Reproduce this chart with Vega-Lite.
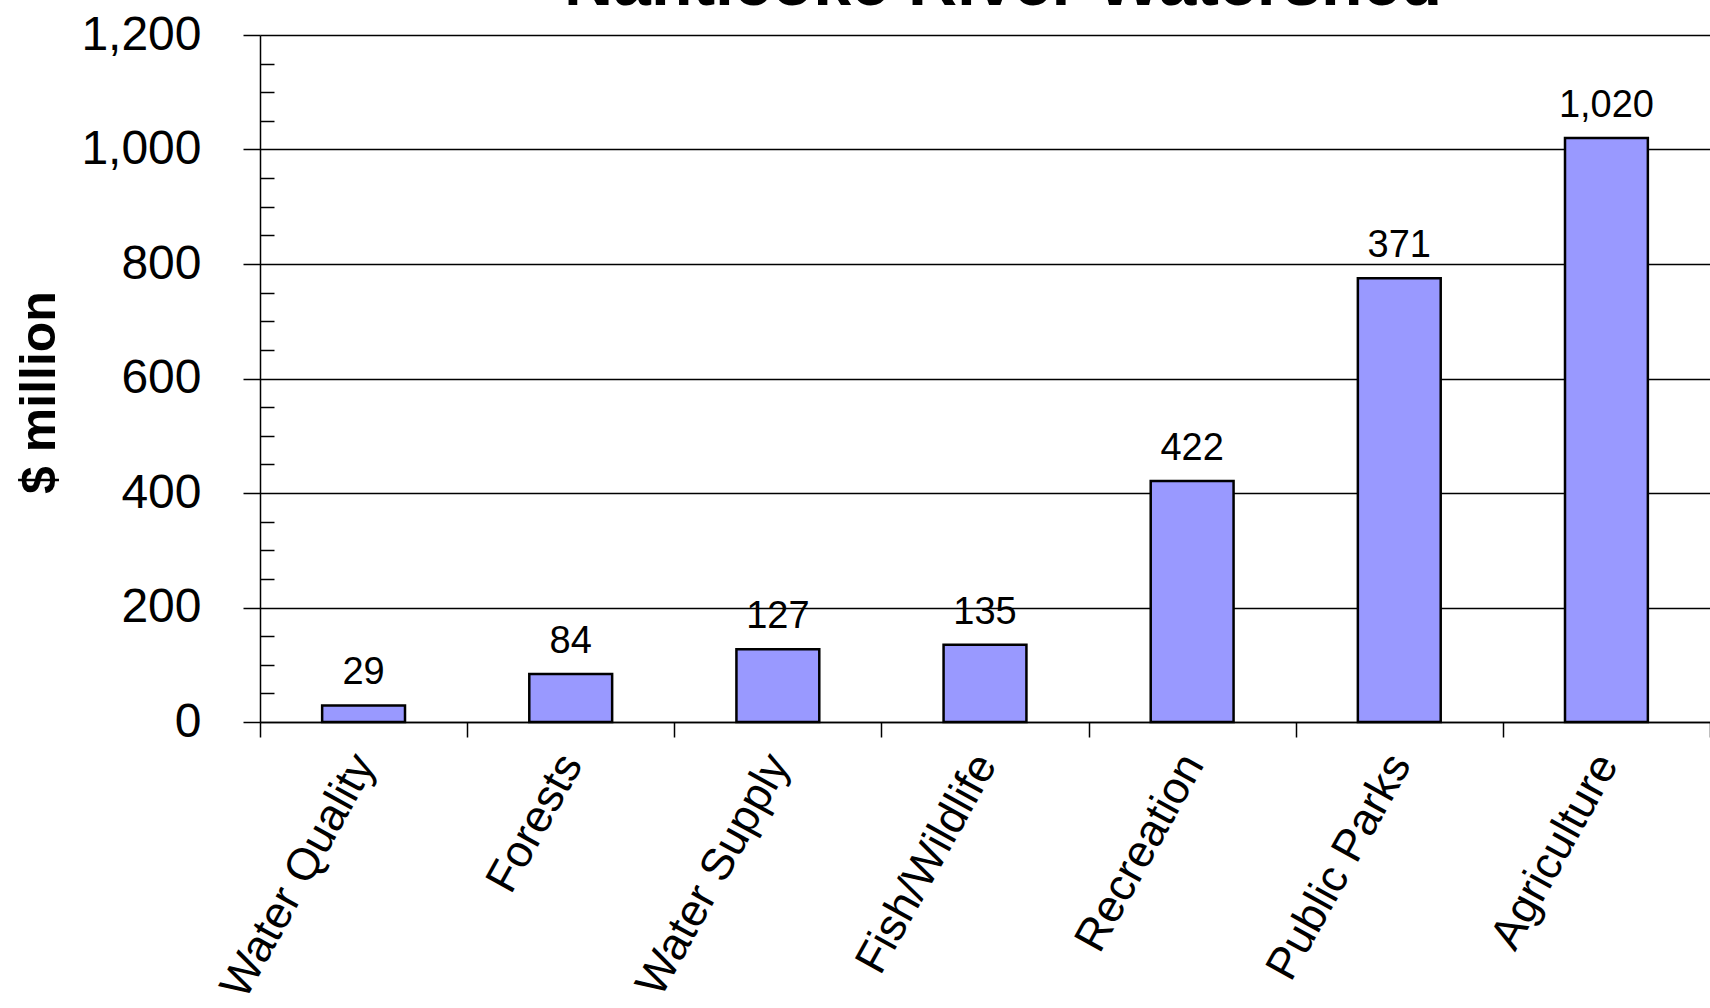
{
  "$schema": "https://vega.github.io/schema/vega-lite/v6.json",
  "width": 1450,
  "height": 687,
  "autosize": {"type": "none"},
  "padding": {"left": 260, "top": 35, "right": 0, "bottom": 286},
  "background": "white",
  "config": {"view": {"stroke": null}, "font": "Liberation Sans"},
  "title": {
    "text": "Nanticoke River Watershed",
    "fontSize": 68,
    "font": "Liberation Sans",
    "fontWeight": "bold",
    "color": "black",
    "anchor": "middle",
    "baseline": "alphabetic",
    "offset": 8,
    "dy": 70,
    "dx": 18
  },
  "data": {
    "values": [
      {"category": "Water Quality", "value": 29, "label": "29"},
      {"category": "Forests", "value": 84, "label": "84"},
      {"category": "Water Supply", "value": 127, "label": "127"},
      {"category": "Fish/Wildlife", "value": 135, "label": "135"},
      {"category": "Recreation", "value": 421, "label": "422"},
      {"category": "Public Parks", "value": 775, "label": "371"},
      {"category": "Agriculture", "value": 1020, "label": "1,020"}
    ]
  },
  "encoding": {
    "x": {
      "field": "category",
      "type": "nominal",
      "sort": null,
      "scale": {"paddingInner": 0, "paddingOuter": 0},
      "axis": {
        "title": null,
        "tickBand": "extent",
        "labelAngle": -61,
        "labelAlign": "right",
        "labelBaseline": "middle",
        "labelFontSize": 45,
        "labelColor": "black",
        "labelPadding": 20,
        "labelLimit": 0,
        "tickSize": 15,
        "tickColor": "black",
        "tickWidth": 1.5,
        "domainColor": "black",
        "domainWidth": 1.5,
        "grid": false
      }
    },
    "y": {
      "field": "value",
      "type": "quantitative",
      "scale": {"domain": [0, 1200], "nice": false}
    }
  },
  "layer": [
    {
      "mark": {"type": "bar", "width": {"band": 0.4}, "fill": "#9999FF", "stroke": "black", "strokeWidth": 2.5},
      "encoding": {
        "y": {
          "field": "value",
          "type": "quantitative",
          "scale": {"domain": [0, 1200], "nice": false},
          "axis": {
            "orient": "left",
            "values": [0, 200, 400, 600, 800, 1000, 1200],
            "format": ",d",
            "labelFontSize": 48,
            "labelColor": "black",
            "labelPadding": 42,
            "tickSize": 17,
            "tickColor": "black",
            "tickWidth": 1.5,
            "domainColor": "black",
            "domainWidth": 1.5,
            "grid": true,
            "gridColor": "black",
            "gridWidth": 1.3,
            "gridOpacity": 1,
            "title": "$ million",
            "titleFontSize": 50,
            "titleFontWeight": "bold",
            "titleColor": "black",
            "titleX": -196,
            "titleY": 357,
            "titleBaseline": "bottom"
          }
        }
      }
    },
    {
      "mark": {"type": "text", "fontSize": 38, "color": "black", "baseline": "alphabetic", "dy": -21},
      "encoding": {
        "text": {"field": "label"},
        "y": {
          "field": "value",
          "type": "quantitative",
          "scale": {"domain": [0, 1200], "nice": false},
          "axis": {
            "orient": "left",
            "values": [50, 100, 150, 250, 300, 350, 450, 500, 550, 650, 700, 750, 850, 900, 950, 1050, 1100, 1150],
            "labels": false,
            "tickSize": -14,
            "tickColor": "black",
            "tickWidth": 1.5,
            "domain": false,
            "grid": false,
            "title": null
          }
        }
      }
    }
  ],
  "resolve": {"axis": {"y": "independent"}}
}
